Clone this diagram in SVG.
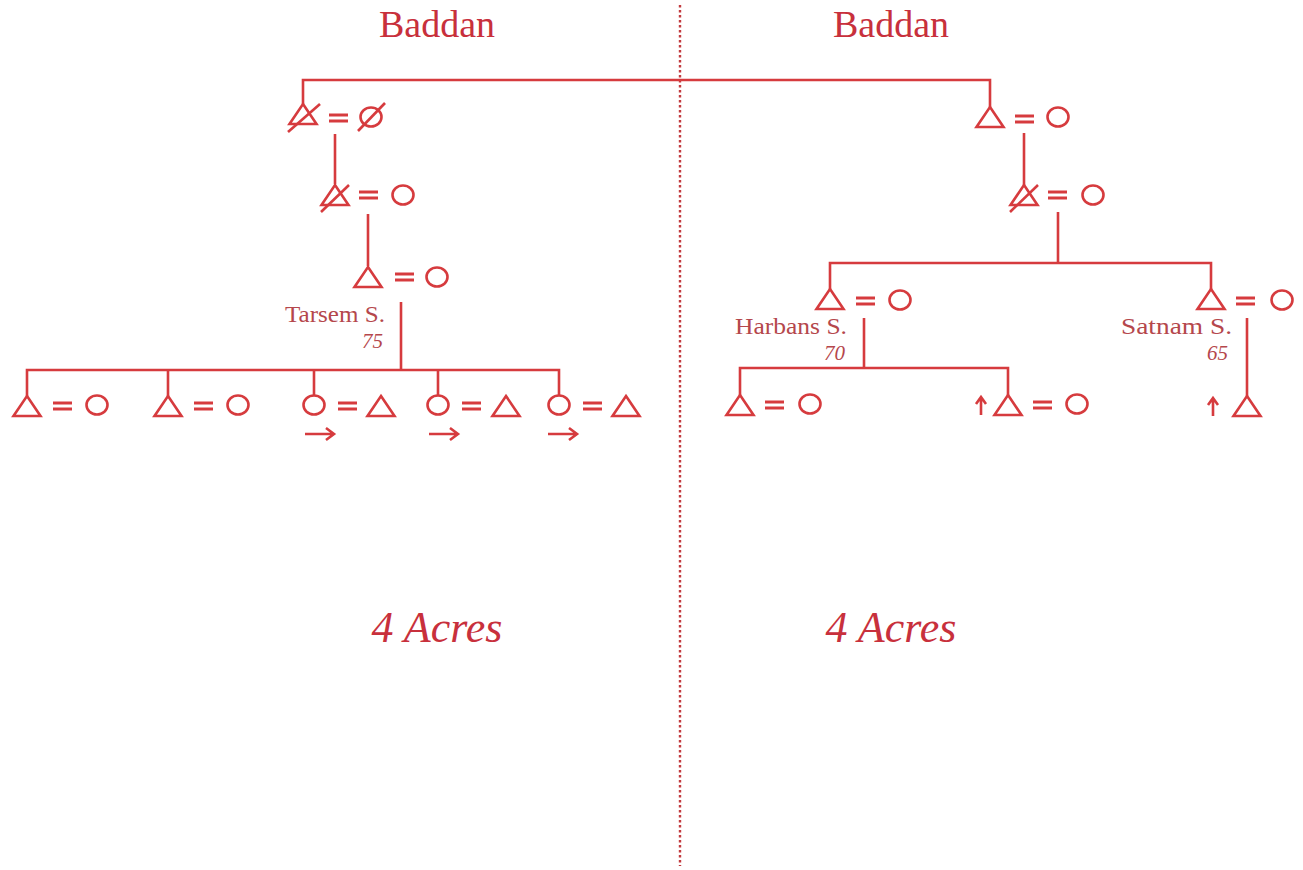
<svg xmlns="http://www.w3.org/2000/svg" width="1303" height="870" viewBox="0 0 1303 870">
<style>
.ln{stroke:#d63b3e;stroke-width:2.6;fill:none;stroke-linecap:butt}
.sym{stroke:#d63b3e;stroke-width:2.6;fill:none;stroke-linejoin:miter}
.eq{stroke:#d63b3e;stroke-width:3}
.title{font-family:"Liberation Serif",serif;font-size:38px;fill:#c8303c}
.acres{font-family:"Liberation Serif",serif;font-size:44px;font-style:italic;fill:#c8303c}
.name{font-family:"Liberation Serif",serif;font-size:23px;fill:#b5474c;text-anchor:end}
.age{font-family:"Liberation Serif",serif;font-size:21px;font-style:italic;fill:#b5474c;text-anchor:end}
.div{stroke:#c23a3e;stroke-width:2.4;stroke-dasharray:2.5 2.5;fill:none}
</style>
<defs>
<g id="tri"><path class="sym" d="M0,0 L13.5,20 L-13.5,20 Z"/></g>
<g id="cir"><ellipse class="sym" cx="0" cy="0" rx="10.5" ry="9.5"/></g>
<g id="eqs"><line class="eq" x1="0" y1="-3" x2="19" y2="-3"/><line class="eq" x1="0" y1="3" x2="19" y2="3"/></g>
<g id="rarr"><path class="sym" d="M0,0 H29 M21,-6 L29,0 L21,6"/></g>
<g id="uarr"><path class="sym" d="M0,0 V-18 M-5,-11 L0,-18 L5,-11"/></g>
</defs>

<rect width="1303" height="870" fill="#ffffff"/>

<line class="div" x1="680" y1="5" x2="680" y2="866"/>

<text class="title" x="437" y="37" text-anchor="middle">Baddan</text>
<text class="title" x="891" y="37" text-anchor="middle">Baddan</text>
<text class="acres" x="437" y="642" text-anchor="middle">4 Acres</text>
<text class="acres" x="891" y="642" text-anchor="middle">4 Acres</text>

<g id="connectors">
<path class="ln" d="M303,104 V80 H990 V107"/>
<line class="ln" x1="335" y1="134" x2="335" y2="184"/>
<line class="ln" x1="368" y1="214" x2="368" y2="266"/>
<line class="ln" x1="401" y1="302" x2="401" y2="370"/>
<path class="ln" d="M27,396 V370 H559 V396 M168,370 V396 M314,370 V396 M438,370 V396"/>
<line class="ln" x1="1024" y1="133" x2="1024" y2="185"/>
<line class="ln" x1="1058" y1="212" x2="1058" y2="263"/>
<path class="ln" d="M830,289 V263 H1211 V289"/>
<line class="ln" x1="864" y1="318" x2="864" y2="368"/>
<path class="ln" d="M740,395 V368 H1008 V395"/>
<line class="ln" x1="1247" y1="318" x2="1247" y2="396"/>
</g>

<g id="left-gen1">
<use href="#tri" x="303" y="104"/>
<line class="sym" x1="288" y1="132" x2="320" y2="104"/>
<use href="#eqs" x="329" y="118"/>
<use href="#cir" x="371" y="117"/>
<line class="sym" x1="358" y1="131" x2="385" y2="103"/>
</g>
<g id="left-gen2">
<use href="#tri" x="335" y="185"/>
<line class="sym" x1="321" y1="212" x2="349" y2="185"/>
<use href="#eqs" x="359" y="195"/>
<use href="#cir" x="403" y="195"/>
</g>
<g id="left-gen3">
<use href="#tri" x="368" y="267"/>
<use href="#eqs" x="395" y="277"/>
<use href="#cir" x="437" y="277"/>
</g>
<g id="tarsem">
<text class="name" x="385" y="322" textLength="100" lengthAdjust="spacingAndGlyphs">Tarsem S.</text>
<text class="age" x="383" y="348">75</text>
</g>
<g id="left-child1">
<use href="#tri" x="27" y="396"/>
<use href="#eqs" x="53" y="406"/>
<use href="#cir" x="97" y="405"/>
</g>
<g id="left-child2">
<use href="#tri" x="168" y="396"/>
<use href="#eqs" x="194" y="406"/>
<use href="#cir" x="238" y="405"/>
</g>
<g id="left-child3">
<use href="#cir" x="314" y="405"/>
<use href="#eqs" x="338" y="406"/>
<use href="#tri" x="381" y="396"/>
<use href="#rarr" x="305" y="434"/>
</g>
<g id="left-child4">
<use href="#cir" x="438" y="405"/>
<use href="#eqs" x="462" y="406"/>
<use href="#tri" x="506" y="396"/>
<use href="#rarr" x="429" y="434"/>
</g>
<g id="left-child5">
<use href="#cir" x="559" y="405"/>
<use href="#eqs" x="583" y="406"/>
<use href="#tri" x="626" y="396"/>
<use href="#rarr" x="548" y="434"/>
</g>

<g id="right-gen1">
<use href="#tri" x="990" y="107"/>
<use href="#eqs" x="1015" y="119"/>
<use href="#cir" x="1058" y="117"/>
</g>
<g id="right-gen2">
<use href="#tri" x="1024" y="185"/>
<line class="sym" x1="1010" y1="212" x2="1038" y2="185"/>
<use href="#eqs" x="1048" y="195"/>
<use href="#cir" x="1093" y="195"/>
</g>
<g id="harbans-couple">
<use href="#tri" x="830" y="289"/>
<use href="#eqs" x="856" y="301"/>
<use href="#cir" x="900" y="300"/>
<text class="name" x="847" y="334" textLength="112" lengthAdjust="spacingAndGlyphs">Harbans S.</text>
<text class="age" x="845" y="360">70</text>
</g>
<g id="satnam-couple">
<use href="#tri" x="1211" y="289"/>
<use href="#eqs" x="1236" y="301"/>
<use href="#cir" x="1282" y="300"/>
<text class="name" x="1232" y="334" textLength="111" lengthAdjust="spacingAndGlyphs">Satnam S.</text>
<text class="age" x="1228" y="360">65</text>
</g>
<g id="harbans-child1">
<use href="#tri" x="740" y="395"/>
<use href="#eqs" x="765" y="405"/>
<use href="#cir" x="810" y="404"/>
</g>
<g id="harbans-child2">
<use href="#uarr" x="981" y="415"/>
<use href="#tri" x="1008" y="395"/>
<use href="#eqs" x="1033" y="405"/>
<use href="#cir" x="1077" y="404"/>
</g>
<g id="satnam-child">
<use href="#uarr" x="1213" y="416"/>
<use href="#tri" x="1247" y="396"/>
</g>
</svg>
